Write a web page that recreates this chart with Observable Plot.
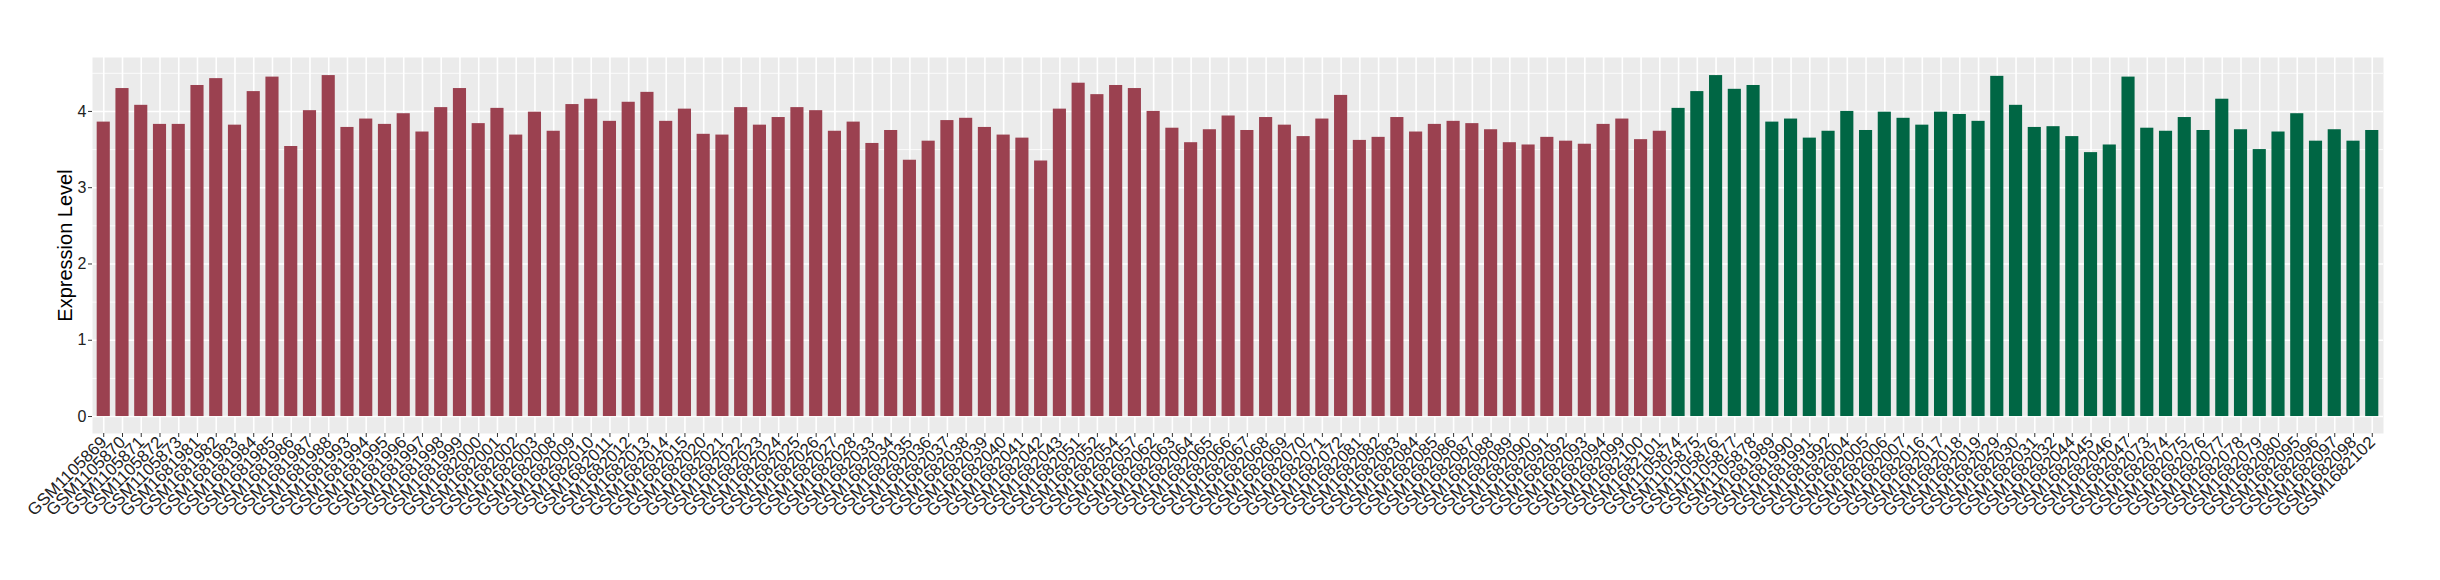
<!DOCTYPE html>
<html><head><meta charset="utf-8">
<script src="https://cdn.jsdelivr.net/npm/d3@7"></script>
<script src="https://cdn.jsdelivr.net/npm/@observablehq/plot@0.6"></script>
<style>body{margin:0;background:#fff}</style>
</head><body><div id="chart"></div>
<script>
const samplesA = [
"GSM1105869","GSM1105870","GSM1105871","GSM1105872","GSM1105873",
"GSM1681981","GSM1681982","GSM1681983","GSM1681984","GSM1681985","GSM1681986","GSM1681987","GSM1681988",
"GSM1681993","GSM1681994","GSM1681995","GSM1681996","GSM1681997","GSM1681998","GSM1681999",
"GSM1682000","GSM1682001","GSM1682002","GSM1682003",
"GSM1682008","GSM1682009","GSM1682010","GSM1682011","GSM1682012","GSM1682013","GSM1682014","GSM1682015",
"GSM1682020","GSM1682021","GSM1682022","GSM1682023","GSM1682024","GSM1682025","GSM1682026","GSM1682027","GSM1682028",
"GSM1682033","GSM1682034","GSM1682035","GSM1682036","GSM1682037","GSM1682038","GSM1682039","GSM1682040","GSM1682041","GSM1682042","GSM1682043",
"GSM1682051","GSM1682052","GSM1682054","GSM1682057",
"GSM1682062","GSM1682063","GSM1682064","GSM1682065","GSM1682066","GSM1682067","GSM1682068","GSM1682069","GSM1682070","GSM1682071","GSM1682072",
"GSM1682081","GSM1682082","GSM1682083","GSM1682084","GSM1682085","GSM1682086","GSM1682087","GSM1682088","GSM1682089","GSM1682090","GSM1682091","GSM1682092","GSM1682093","GSM1682094",
"GSM1682099","GSM1682100","GSM1682101"
];
const valuesA = [
3.86,4.30,4.08,3.83,3.83,4.34,4.43,3.82,4.26,4.45,3.54,4.01,4.47,3.79,3.90,3.83,3.97,3.73,4.05,4.30,3.84,4.04,3.69,3.99,3.74,
4.09,4.16,3.87,4.12,4.25,3.87,4.03,3.70,3.69,4.05,3.82,3.92,4.05,4.01,3.74,3.86,3.58,3.75,3.36,3.61,3.88,3.91,3.79,3.69,3.65,
3.35,4.03,4.37,4.22,4.34,4.30,4.00,3.78,3.59,3.76,3.94,3.75,3.92,3.82,3.67,3.90,4.21,3.62,3.66,3.92,3.73,3.83,3.87,3.84,
3.76,3.59,3.56,3.66,3.61,3.57,3.83,3.90,3.63,3.74
];
const samplesB = [
"GSM1105874","GSM1105875","GSM1105876","GSM1105877","GSM1105878",
"GSM1681989","GSM1681990","GSM1681991","GSM1681992",
"GSM1682004","GSM1682005","GSM1682006","GSM1682007",
"GSM1682016","GSM1682017","GSM1682018","GSM1682019",
"GSM1682029","GSM1682030","GSM1682031","GSM1682032",
"GSM1682044","GSM1682045","GSM1682046","GSM1682047",
"GSM1682073","GSM1682074","GSM1682075","GSM1682076","GSM1682077","GSM1682078","GSM1682079","GSM1682080",
"GSM1682095","GSM1682096","GSM1682097","GSM1682098",
"GSM1682102"
];
const valuesB = [
4.04,4.26,4.47,4.29,4.34,3.86,3.90,3.65,3.74,4.00,3.75,3.99,3.91,3.82,3.99,
3.96,3.87,4.46,4.08,3.79,3.80,3.67,3.46,3.56,4.45,3.78,3.74,3.92,3.75,4.16,3.76,3.50,3.73,3.97,3.61,3.76,3.61,3.75
];
const yMajor = [0, 1, 2, 3, 4];
const yMinor = [0.5, 1.5, 2.5, 3.5, 4.5];
const yTitle = "Expression Level";
const groups = ["A", "B"];
const groupColors = ["#9B4150", "#006644"];

const data = [
  ...samplesA.map((s, i) => ({sample: s, value: valuesA[i], group: groups[0]})),
  ...samplesB.map((s, i) => ({sample: s, value: valuesB[i], group: groups[1]}))
];

const chart = Plot.plot({
  width: 2440, height: 580,
  marginLeft: 92, marginRight: 57, marginTop: 57, marginBottom: 147,
  style: {fontFamily: "'Liberation Sans', Arial, Helvetica, sans-serif", background: "white", color: "#222"},
  x: {type: "band", domain: data.map(d => d.sample), paddingInner: 0.3, paddingOuter: 0.25},
  y: {domain: [-0.2225, 4.707]},
  color: {domain: groups, range: groupColors},
  marks: [
    Plot.frame({fill: "#EBEBEB"}),
    Plot.ruleY(yMinor, {stroke: "white", strokeWidth: 0.8}),
    Plot.ruleY(yMajor, {stroke: "white", strokeWidth: 1.6}),
    Plot.ruleX(data, {x: "sample", stroke: "white", strokeWidth: 1.6}),
    Plot.barY(data, {x: "sample", y: "value", fill: "group"}),
    Plot.axisY({ticks: yMajor, tickFormat: "d", tickSize: 4, tickPadding: 2, fontSize: 16, label: null, stroke: "#333", color: "#222"}),
    Plot.axisX({tickRotate: -45, tickSize: 4, tickPadding: 2, fontSize: 17, label: null, stroke: "#333", color: "#222"}),
    Plot.text([yTitle], {text: d => d, frameAnchor: "left", textAnchor: "middle", dx: -27, rotate: -90, fontSize: 20, fill: "black"})
  ]
});
document.getElementById("chart").appendChild(chart);
</script>
</body></html>
